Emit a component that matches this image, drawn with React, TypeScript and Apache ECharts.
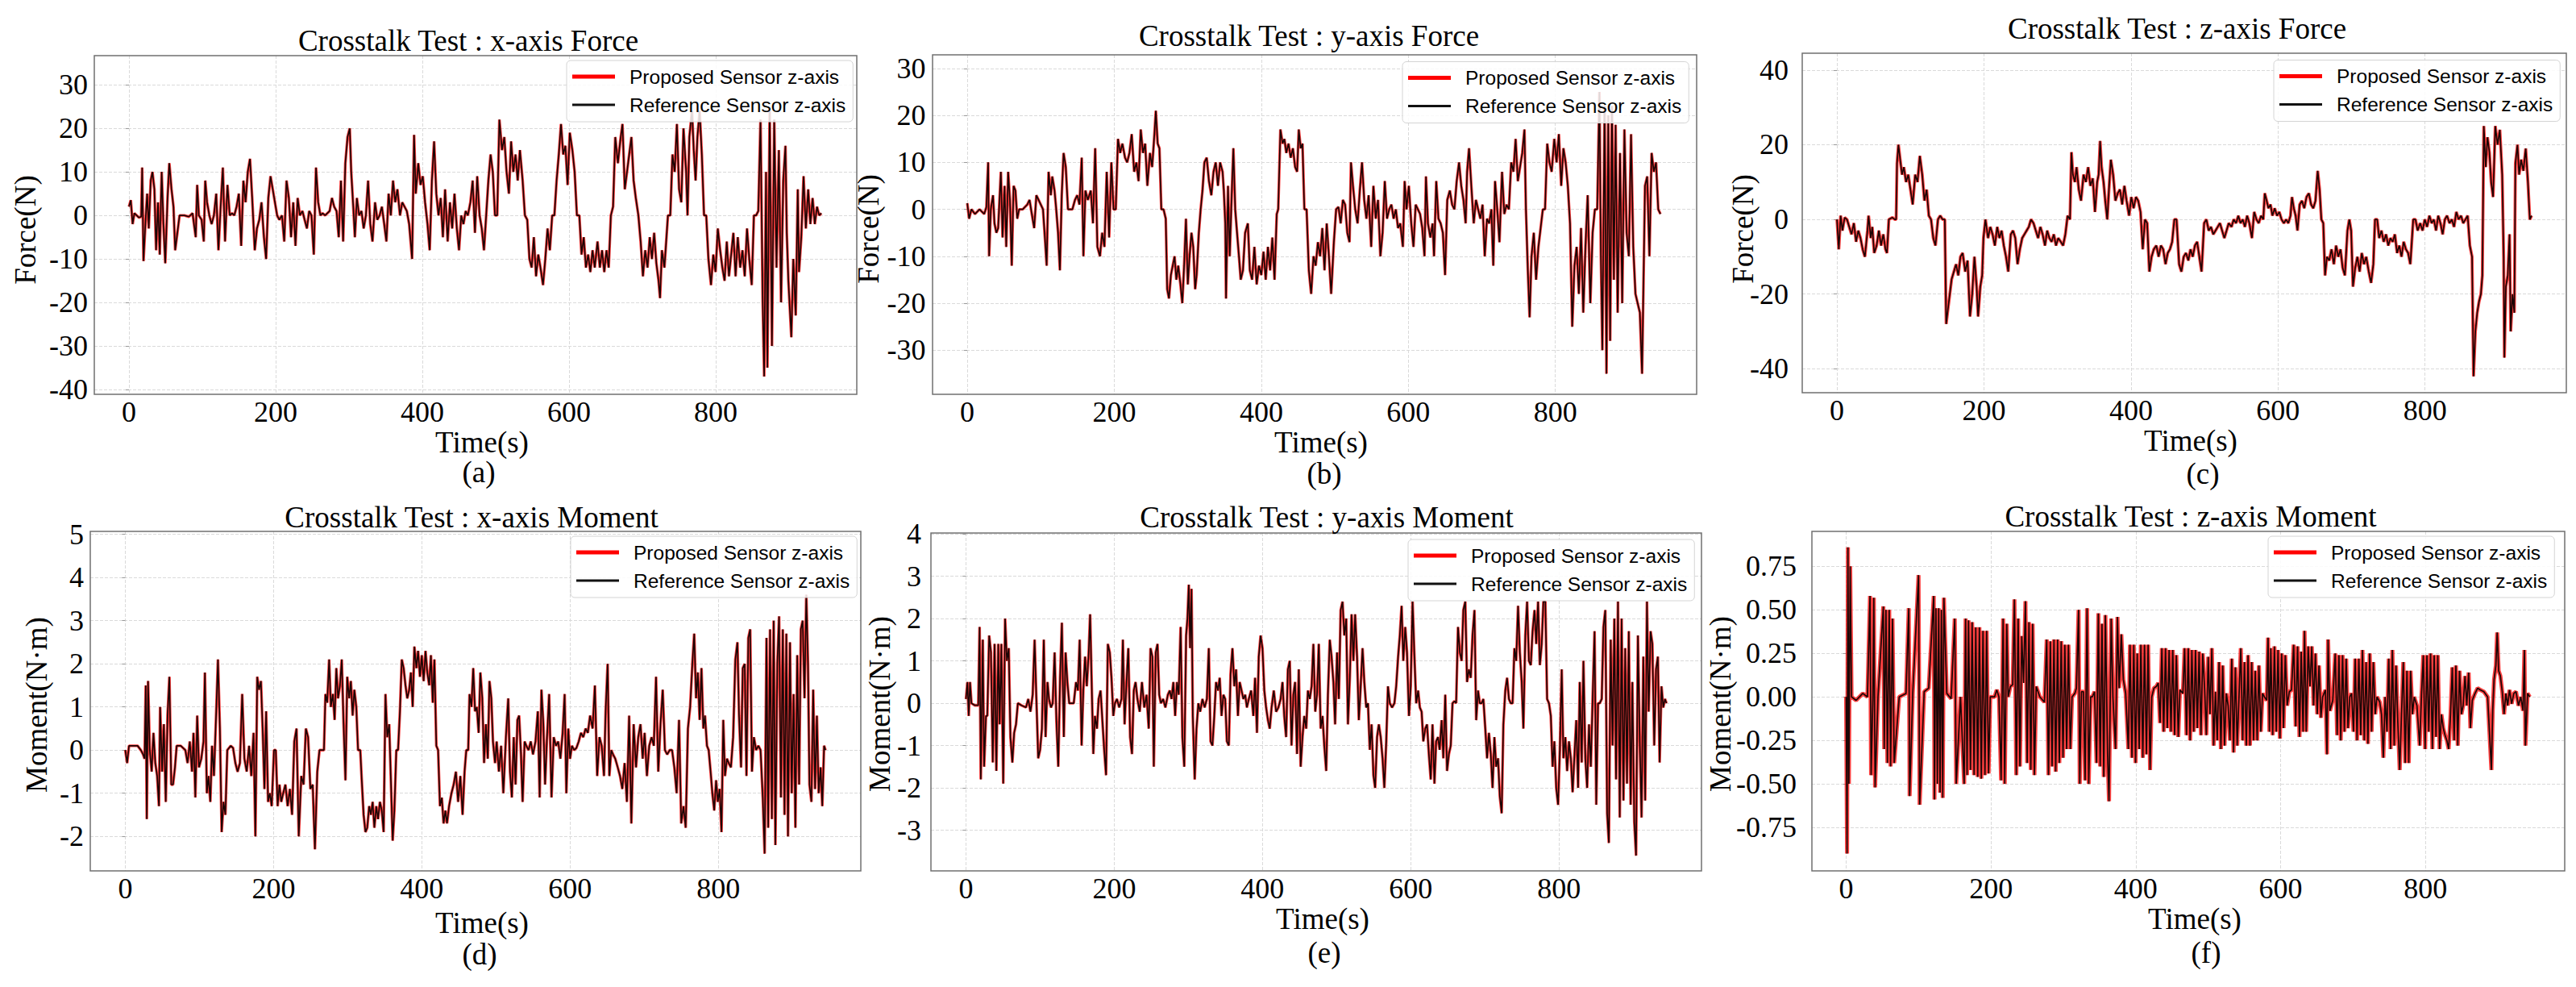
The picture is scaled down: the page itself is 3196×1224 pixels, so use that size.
import React, { useEffect, useRef } from "react";
import * as echarts from "echarts";

// ---------- texts ----------
const SERIES_NAMES = ["Proposed Sensor z-axis", "Reference Sensor z-axis"];
const PANEL_TITLES = [
  "Crosstalk Test : x-axis Force",
  "Crosstalk Test : y-axis Force",
  "Crosstalk Test : z-axis Force",
  "Crosstalk Test : x-axis Moment",
  "Crosstalk Test : y-axis Moment",
  "Crosstalk Test : z-axis Moment",
];
const PANEL_LETTERS = ["(a)", "(b)", "(c)", "(d)", "(e)", "(f)"];
const X_AXIS_NAME = "Time(s)";
const Y_AXIS_NAMES = ["Force(N)", "Force(N)", "Force(N)", "Moment(N·m)", "Moment(N·m)", "Moment(N·m)"];

// ---------- data: [time (s), reading] ----------
// The proposed and reference traces coincide within the picture's resolution,
// so each panel keeps one list of readings that both lines are drawn from.
const forceX = [
  [0,2],[2.5,3.5],[5,-2],[7.4,0.5],[13.6,-0.5],[16.7,-0.3],[18,11],[19.8,-10.5],[23,0],[24.8,5],[27,-3],[29.7,8],[32,10],[34.7,6],[37,-8],[39.6,3],[42,-9],[44.6,10],[47,-2],[49.5,-11],[52.6,4],[55,12],[58,6],[60.7,2],[63,-8],[66,-4],[69,0],[75.5,0],[81.7,-0.3],[86.7,0.5],[91,-5],[93,7],[95.3,0],[99,-1],[102,-6],[104,8],[106.5,3],[109.6,0],[112.7,-2],[115.8,0],[119,5],[122,-8],[125,2],[128,11],[131,-6],[134.3,7],[137.4,0],[140.5,0.5],[143.6,0],[146.7,2],[149.8,5],[153,-7],[156,8],[159,3],[162,10],[165,13],[168,4],[171.5,-8],[174.5,-3],[177.7,-1],[180.7,3],[184,-5],[187,-10],[190,4],[193,9],[196,6],[199,3],[202,0],[205,-1],[208.6,0],[211.7,-6],[214.8,8],[218,4],[221,-5],[224,3],[227,-7],[230,4],[233,0],[236.5,1],[239.5,-1],[242.6,-3],[245.7,1],[248.8,0],[252,-9],[255,11],[258,3],[261,0],[264,0.5],[267.4,0],[270.5,0.5],[273.6,1],[276.7,4],[279.8,2],[283,1],[286,-5],[289,8],[292,-6],[295,12],[298,18],[301,20],[303,10],[305.8,2],[308,-5],[310.7,4],[313.8,0],[317,1],[320,-3],[323,0],[326,8],[329,-2],[332,-6],[335.5,3],[338.6,-1],[341.7,0],[344.8,2],[348,-2],[351,-6],[354,5],[357,0],[360,8],[363,3],[366,6],[369.5,0],[372.6,3],[375.7,2],[378.8,1],[382,-2],[386,-10],[388.7,18.5],[391,5],[394.4,12],[397.5,7],[400.6,9],[403.7,3],[407,-2],[410,-8],[413,8],[416,17],[419,5],[422,0],[425,4],[428,-5],[431,6],[434.5,-6],[437.6,3],[440.7,-3],[443.8,5],[447,-3],[450,-8],[453,0],[456,-2],[459,1],[462,0],[465.5,3],[468.6,8],[471.7,-4],[474.8,9],[478,0],[481,-3],[484,-8],[487,0],[490,8],[493,14],[496,10],[499,0],[502,0],[505,22],[508.6,15],[511.7,18],[514.8,10],[518,5],[521,17],[524,10],[527,14],[530,8],[533,15],[536.7,8],[539.8,0],[543,-1],[546,-10],[549,-12],[552,-5],[555,-14],[558,-9],[561,-12],[564.5,-16],[567.6,-10],[570.7,-3],[573.8,-8],[577,0],[580,0],[583,8],[586,14],[589,21],[592,14],[595,16],[598,7],[601,19],[604.5,15],[607.6,10],[610.7,0],[614,0],[617,-9],[620,-5],[623,-12],[626,-9],[629,-13],[632,-8],[635,-12],[638.8,-6],[642,-12],[645,-8],[648,-13],[651,-8],[654,-12],[657,0],[660,2],[663,18],[666.6,12],[669.7,17],[672.8,21],[676,6],[679,10],[682,14],[685,18],[688,8],[691,4],[694.5,0],[697.6,-6],[700.7,-14],[703.8,-8],[707,-12],[710,-5],[713,-10],[716,-4],[719,-11],[722,-15],[724,-19],[726.6,-8],[730,-12],[734.8,0],[738,0],[741,14],[744,10],[747,21],[750,6],[753,3],[756,20],[759.6,10],[761.5,0],[764,18],[767.6,24],[770,15],[772.5,8],[775,18],[778,24],[781,14],[784,0],[787,0],[790,-10],[793.5,-16],[796.6,-9],[799.7,-13],[802.8,-3],[806,-8],[809,-12],[812,-15],[815,-6],[818,-14],[821,-9],[824,-4],[827,-14],[830,-5],[833.3,-12],[836.4,-8],[839.5,-14],[842.6,-3],[845.7,-10],[849,-16],[852,0],[855,0],[858,1],[861,22],[864,-20],[866,-37],[868.5,10],[870.4,-35],[873.5,24],[876.6,-30],[879.7,22],[882.8,-12],[886,15],[889,-20],[892,8],[895,16],[896.8,-4],[899,-15],[903,-28],[905.7,-10],[909,-23],[911.8,6],[913.5,-13],[916.6,-5],[919.7,9],[922.8,-3],[926,6],[929,-2],[932,4],[935,-2],[938,2],[941,0],[944,0.5],
];

const forceY = [
  [0,1.3],[2.5,-2],[5.6,0],[10.5,-1],[16.7,0],[23,-1],[26,0.5],[28.4,10],[29.7,-10],[32,0],[35,3],[37,-3],[39.6,-5],[42,-4],[45.7,8],[48,-6],[50.7,5],[53,-8],[55.6,8],[58,2],[60.5,-12],[63,5],[65.5,4],[68,-2],[70.5,0],[75.4,0],[81.6,1],[84.7,2],[87.8,-1],[91,-4],[94,3],[97,2],[100,1],[103,0],[106,-7],[108,-12],[110.6,8],[113.7,3],[115.6,7],[118.7,4],[121,0],[123.5,-5],[126,-13],[128.5,3],[131,12],[134,9],[137,0],[143,0],[146.5,2],[149.6,3],[152.6,1],[155.7,11],[158,-10],[160.7,4],[164,2],[168,4],[171,-3],[174,13],[177,-8],[180.5,-10],[183.5,-5],[186.6,-8],[189.7,8],[193,-6],[196,10],[199,0],[202,0],[205,15],[208,12],[211,14],[214.6,11],[217.5,10],[220.6,12],[223.7,16],[227,8],[230,10],[233,6],[236,17],[239,12],[242,14],[245,5],[248.5,12],[251.5,9],[254.6,16],[256.5,21],[259,14],[261.4,13],[264,0],[267,0],[270,-2],[272,-17],[274.4,-19],[277,-14],[279.5,-12],[282,-10],[284.4,-15],[287,-12],[290,-16],[292.5,-20],[295,-12],[297.5,-2],[300,-16],[302.4,-10],[305,-5],[307.4,-8],[310,-17],[312,-14],[315,-5],[317.5,0],[320,4],[322.6,10],[325.7,11],[328.8,6],[332,3],[335,8],[338,10],[341,5],[344,10],[347.3,8],[349,4],[351,-3],[352,-19],[354.7,5],[357,-10],[359.7,3],[362,13],[364.5,0],[367,-5],[369.6,-10],[372,-15],[375,-13],[378,-5],[381.7,-3],[384.4,-13],[387.5,-15],[390.6,-8],[393.7,-16],[396.8,-12],[400,-14],[403,-9],[406,-15],[409,-8],[412,-13],[415,-6],[418,-15],[421,-1],[423,0],[426,17],[429,14],[431.4,15],[434,12],[437,14],[440,11],[443,13],[446,9],[448.7,8],[451,17],[453.6,13],[456,14],[458.6,0],[461.6,0],[464.7,-13],[467.8,-18],[471,-10],[474,-12],[477,-7],[480,-10],[483,-4],[486,-13],[489,-3],[492,-10],[495,-18],[498.7,-7],[501.8,0],[505,0.5],[508,-3],[511,2],[514,1],[517,-5],[520,-7],[522,10],[524.7,5],[527.8,0],[531,-3],[534,4],[537,10],[540,2],[543,-2],[546,3],[549.5,-8],[552.5,5],[555.7,-2],[558.8,2],[562,-10],[565,-5],[568,6],[571,-2],[574,0],[577,1],[580,-2],[583,0],[586,-4],[589,-3],[592.6,-8],[595,6],[597.6,0],[600.7,5],[604,-3],[607,-8],[610,1],[613,0],[616,-1],[619,-4],[622,-10],[624,7],[626.7,-3],[630,-6],[633,-3],[635,-10],[638,6],[641,-2],[644,-3],[647,-5],[650,-14],[653,2],[656.5,4],[659.6,1],[662.7,0],[665.8,6],[669,10],[672,5],[675,2],[678,-3],[680,8],[682.6,13],[685.7,5],[689,-3],[692,2],[695,0],[698,-2],[701,1],[704,-10],[707,-2],[710,-3],[713,0],[715.6,-12],[718,6],[721,0],[724,-7],[727.5,8],[730.6,-1],[733.7,1],[736.8,0],[740,10],[743,8],[746,15],[749,6],[752,9],[755,12],[758,17],[760,0],[762.6,-13],[765,-23],[767.6,-10],[770.7,-5],[773.8,-15],[777,-8],[780,-4],[783,0],[786,0],[789,14],[792,10],[795,8],[798.6,15],[801.7,10],[804.8,16],[808,5],[811,13],[814,10],[817,5],[820,-3],[823,-25],[826,-12],[829,-8],[832,-18],[835,-4],[838,-22],[841,-8],[844,3],[847.6,-20],[850.7,-5],[853.8,0],[857,0],[860,25],[862,-10],[864,-30],[867,22],[869.6,-35],[872,20],[874.6,-28],[877,22],[879.6,-15],[882,18],[884.8,-22],[888,12],[891,-20],[894,17],[897,-5],[900,-10],[903,16],[906,-8],[909,-18],[912,-20],[915,-22],[918,-35],[922,5],[925,7],[928,-10],[931,12],[934,8],[937,10],[940,0],[943,-1],
];

const forceZ = [
  [0,0],[2.5,-8],[5,1],[7.4,-3],[10.5,0.5],[13.6,0],[16.7,-2],[19.8,-4],[23,-1],[26,-6],[29,-3],[32,-5],[35,-8],[38,-10],[41.5,-3],[43,1],[46,-5],[48,-2],[50.7,-9],[54,-7],[57,-3],[60,-7],[63,-4],[66,-8],[68,-9],[70.6,0],[75.5,0.5],[78.6,0],[80.5,0],[81.7,15],[83.6,20],[86,16],[88.5,12],[91,14],[94,10],[97,12],[100,8],[103,4],[106.5,12],[109.6,10],[112.7,17],[116,12],[119,5],[122,8],[125,1],[128,0],[131,-5],[134,-7],[137.4,0],[140.5,1],[143.6,0],[146.7,0],[148.6,-28],[151,-24],[153.5,-20],[156,-16],[159,-14],[162,-12],[165,-15],[168,-10],[171,-9],[174.5,-14],[177.7,-11],[181,-26],[184,-20],[187,-10],[190,-18],[192,-26],[195,-18],[197.5,-15],[199.3,-5],[202,0],[205.5,-5],[208.6,-2],[211.7,-4],[214.8,-7],[218,-2],[221,-5],[224,-3],[227,-7],[230,-10],[233,-14],[236.5,-4],[239.5,-3],[242.6,-5],[245.7,-12],[248.8,-8],[252,-5],[255,-4],[258,-3],[261,-2],[264,0],[267.4,-1],[270.5,-3],[273.6,-5],[276.7,-2],[279.8,-4],[283,-7],[286,-3],[289,-5],[292,-6],[295,-4],[298,-7],[301,-5],[304.5,-6],[307.6,-7],[310.7,-4],[313.8,1],[317,0],[319,18],[321,12],[323.7,10],[326,14],[329,8],[332,5],[335.5,12],[338.6,10],[341.7,14],[344.8,9],[348,11],[351,2],[354,10],[356,12],[358,21],[360,14],[362.7,10],[365,5],[367.7,0],[370,8],[372.6,16],[375.7,12],[378.8,5],[382,7],[385,8],[388,4],[391,9],[394,5],[397.4,1],[400.5,6],[403.6,3],[406.7,6],[409.8,5],[413,2],[416,-8],[419,0],[422,-1],[425,-14],[428,-10],[431,-8],[434.5,-7],[437.6,-10],[440.7,-7],[443.8,-8],[447,-12],[450,-9],[453,-8],[456,-6],[459,0],[462,0],[465.5,-12],[468.6,-14],[471.7,-10],[474.8,-9],[478,-11],[481,-8],[484,-10],[487,-7],[490,-6],[493,-10],[496,-14],[499.5,-1],[502.6,0],[505.7,-3],[508.8,-2],[512,-4],[515,-3],[518,-2],[521,-1],[524,-3],[527,-5],[530,-3],[533,-1],[536.7,-2],[539.8,0],[543,-1],[546,1],[549,-1],[552,0],[555,-2],[558,1],[561,-1],[564.5,-5],[567.6,2],[570.7,0],[573.8,-1],[577,1],[580,0],[582,7],[584.6,5],[587,3],[589.8,4],[592.4,1],[595.5,3],[598.6,1],[601.7,2],[604.8,0],[608,-1],[611,0],[614,-1],[617,1],[619,6],[621.5,3],[624,1],[626.5,-3],[629.5,4],[632.6,5],[635.7,3],[638.8,6],[642,7],[645,4],[648,3],[651,5],[654,13],[656.6,8],[659,0],[661.6,-1],[664,-15],[666.6,-10],[669.7,-11],[672.8,-8],[676,-12],[679,-7],[682,-10],[685,-8],[688,-13],[691,-15],[694.5,-3],[697,0],[699.5,-3],[702,-18],[705,-13],[708,-10],[711,-14],[714,-9],[717,-12],[720,-10],[723.5,-14],[726.6,-17],[729.7,-12],[732,0],[735,0],[737.6,-5],[740.7,-3],[743.8,-6],[747,-4],[750,-7],[753,-5],[756,-6],[759,-4],[762,-9],[765,-7],[768,-10],[771,-6],[774,-8],[777,-9],[780,-12],[784,0],[787,0],[790,-3],[793.5,-1],[796.6,-3],[799.7,0],[802.8,-2],[806,1],[809,-1],[812,0],[815,-3],[818,1],[821,-1],[824,-4],[827,0],[830,1],[833.3,-1],[836.4,0],[839.5,-2],[842.6,2],[845.7,0],[849,1],[852,-1],[855,0],[858,1],[861,-7],[864,-10],[866,-42],[868.5,-30],[871,-25],[873.5,-22],[876,-20],[878,-15],[880,25],[882.6,14],[885,22],[887.6,18],[890,10],[892.6,6],[895.6,25],[898.7,20],[901.8,24],[905,12],[907,-10],[908,-37],[910,-18],[912.6,-15],[915,-4],[916.6,-30],[919,-20],[921.5,-25],[923,15],[925.8,20],[928,12],[930.7,16],[933.8,13],[937,19],[940,10],[942.6,0],[945,1],
];

const momentX = [
  [0,0],[2.5,-0.3],[5,0.1],[10,0.1],[16.6,0.1],[21,0],[24,-0.1],[26,-0.2],[27.6,1.5],[29,-1.6],[30.7,1.6],[33,0],[35.6,-0.5],[38,0.4],[40.5,-0.3],[43,-0.6],[45.4,-1.3],[47,1.0],[49.7,-0.5],[52,0.6],[54.6,-1.2],[57,0.8],[59.5,1.7],[62,-0.8],[64.4,-0.8],[67,-0.4],[69.3,0.1],[74.8,0.1],[81,0],[84,-0.3],[87,0.2],[90,-0.5],[92,0.4],[94.5,-1.1],[97,0.8],[99.4,-0.4],[102.5,-0.2],[105.5,0.2],[107.4,1.8],[110,-1.0],[112.3,-0.6],[114.7,-1.2],[117,0.1],[119.6,-0.6],[122.7,0.9],[125,2.1],[127.6,0.5],[130,-1.9],[132.5,-1.2],[135,-1.5],[137.6,0],[142.3,0.1],[145.4,0.05],[148.5,-0.3],[151.5,-0.5],[154.6,-0.3],[157.7,1.3],[160.7,-0.2],[163.8,-0.5],[167,0.1],[170,-0.6],[173,0.4],[175.5,-2.0],[178,1.7],[180.4,1.4],[183,1.6],[185.3,0.5],[187.7,-0.9],[190,0.9],[192.6,-1.2],[195,-1.0],[197.5,-1.3],[200.6,0],[203,0],[205.5,-1.3],[208,-0.8],[210.4,-1.2],[213,-1.0],[216,-0.8],[219,-1.3],[222,-0.9],[225,-1.5],[228,0.2],[231,0.5],[234,-2.0],[237.4,-0.6],[240.5,-0.8],[243.6,0.5],[246.6,0.3],[249.7,-0.9],[252.8,-0.8],[255.8,-2.3],[259,-0.5],[262,0],[265,0],[268,0],[270,1.3],[272.4,1.1],[275,2.1],[277.3,1.0],[280,1.3],[282.4,0.7],[284.7,1.9],[287,1.2],[289.6,1.5],[292,2.1],[294.5,0.6],[297,-0.7],[299.4,1.7],[302,1.2],[304.3,1.6],[306.7,0.8],[309,1.4],[311.6,1.0],[314,0],[317,0],[319,-0.7],[321.5,-1.5],[324,-1.9],[326.4,-1.8],[329,-1.3],[331.3,-1.5],[333.7,-1.2],[336,-1.8],[338.6,-1.3],[341,-1.6],[343.5,-1.2],[346,-1.4],[348.5,-1.9],[351,1.3],[353.4,0.3],[356,0.6],[358.3,-0.7],[360.7,-2.1],[363,-1.4],[365.6,0],[368,0],[370.5,0.9],[373,2.1],[375.5,1.9],[378,1.5],[380.4,1.2],[383,1.4],[385.3,1.8],[387.7,1.0],[390,2.4],[392.7,1.9],[395,2.3],[397.5,1.7],[400,2.2],[402.5,1.6],[405,2.3],[407.4,1.8],[410,1.5],[412.3,2.2],[414.8,1.1],[417,2.1],[419.6,0.1],[422,0],[424.5,-1.3],[427,-1.1],[429.4,-1.7],[431.8,-1.4],[434,-1.7],[436.8,-1.3],[440,-1.0],[443,-0.8],[446,-0.5],[449,-1.2],[452,-0.6],[455,-1.5],[457.7,-0.5],[460,0],[462.6,0],[464.4,1.3],[467,1.0],[469.4,1.9],[471.8,0.9],[474.2,1.0],[476.7,0.4],[479,1.8],[481.6,1.2],[484,-0.3],[486.5,0.6],[489,-0.2],[491.3,1.6],[493.8,1.2],[496,0.2],[498.8,-0.3],[501,0.2],[504,-0.5],[507,0.1],[510,-1.0],[513.5,0.3],[516.6,1.2],[519,-0.5],[521.5,-1.1],[524,0.3],[526.5,-0.8],[529,0.7],[531.3,0.8],[533.8,-0.1],[536,-1.2],[538.7,0.2],[541,0.1],[544,0],[547,0.2],[550,-0.1],[553.4,0.2],[556.5,0.9],[559,-1.1],[561.4,1.4],[564,0.6],[566.3,-0.8],[568.7,0.2],[571.8,1.3],[575,-1.1],[578,0.3],[581,0.1],[584,0.2],[587,-0.2],[590,0.4],[592.7,1.3],[595,-1.0],[597.6,0.5],[600,-0.2],[602.5,0.1],[605.5,0],[608.6,0.05],[611.7,0.2],[614.7,0.4],[617.8,0.3],[621,0.5],[624,0.4],[627,0.8],[630.4,0.5],[633.5,1.5],[636.6,-0.6],[639.7,0.3],[642.7,0.1],[645.8,-0.6],[648,0.9],[650.7,2.0],[653,-0.6],[655.6,0],[658,-0.1],[661,-0.2],[664.3,-0.4],[667.4,-0.6],[670.5,-0.9],[673.6,-0.3],[676.7,-1.2],[679.7,0.8],[682.7,-1.7],[685.8,0.6],[689,-0.4],[692,0.3],[695,0.6],[698,-0.2],[700.6,0.4],[703.7,-0.6],[706.8,0.1],[710,0.3],[713,0.1],[716,1.7],[719,-0.5],[722,0.6],[725,1.4],[728,0],[731,-0.1],[734.5,0],[737.6,0],[740.7,-0.4],[743.8,-1.0],[747,0.7],[750,-1.7],[753,-1.3],[756,-1.8],[759,0.5],[762,1.0],[765,2.0],[767.5,2.7],[770,1.2],[772.4,1.8],[774.8,0.7],[777.3,1.9],[779.8,0.5],[782,0.8],[784.7,0.1],[787,0],[789.6,-0.5],[792,-1.0],[794.5,-1.4],[797,-0.7],[799.4,-1.2],[801.8,-0.9],[804.3,-1.9],[806.7,0.7],[809,-0.6],[811.7,-0.2],[814,-0.3],[817,-0.4],[820,0.3],[823,2.1],[825.8,2.5],[828,0.8],[830.7,-0.4],[833,1.9],[835.6,2.0],[838,-0.6],[840.5,2.6],[843,2.8],[845.4,-0.5],[848,0.3],[851,0],[854,0.1],[857,0],[860,-1.1],[862.5,-2.4],[865,2.6],[867.3,-1.8],[869.8,2.8],[872.3,-1.6],[874.7,3.0],[877,-2.2],[879.6,2.0],[882,3.1],[884.5,-1.1],[887,2.8],[889.3,-1.5],[891.8,2.7],[894,-2.0],[896.7,2.5],[899,-1.0],[901.6,1.3],[904,-1.8],[906.5,2.2],[909,-0.8],[911.4,2.8],[913.8,3.0],[916.3,1.2],[918.7,3.6],[921,2.0],[923,-0.8],[925.6,-1.2],[928,1.4],[930.5,-0.9],[933,0.8],[935.4,-1.0],[938,-0.4],[940.3,-1.3],[942.7,0.1],[944.6,0],
];

const momentY = [
  [0,0.1],[2,0.5],[3.7,-0.3],[5.5,0.5],[7.4,0],[12,-0.05],[16.6,-0.05],[18.4,1.8],[20,-1.8],[22.7,1.5],[24.5,-1.5],[27,-0.3],[28.8,-0.3],[31.3,1.6],[33.7,1.2],[36.2,-1.4],[38.6,1.4],[41,-1.6],[43.6,1.4],[45.4,-0.5],[47.8,1.4],[50.3,-1.9],[52.8,2.0],[55.2,1.0],[57.7,1.3],[60,-0.8],[62.6,-1.4],[65,-0.7],[67.5,-0.5],[70,0],[74.8,-0.05],[81,-0.1],[84,0.1],[87,-0.2],[90,0.2],[92.6,1.5],[95,0.1],[97.5,-1.3],[100,-1.1],[102.5,-0.6],[105,1.5],[107.4,-0.8],[110,0.5],[112,0.1],[114.7,-0.1],[117,0],[119.6,1.2],[122,-0.4],[124.5,-1.5],[127,0.6],[129.4,1.9],[132,-0.8],[134.4,1.2],[136.8,0.5],[139.3,0],[145.4,0],[148.5,0.5],[151,0.3],[153.4,1.5],[156,-1.0],[158.3,0.3],[160.7,1.1],[163,0.4],[165.6,1.2],[167.5,2.1],[169.3,0.7],[171.8,-1.2],[174,-0.3],[176.7,-0.6],[179,0.1],[181.6,0.3],[184,-0.4],[186.5,-1.1],[189,-1.7],[191.4,1.4],[194,1.2],[196.3,0.6],[198.8,-0.3],[201,0],[203.7,0.1],[206.7,-0.1],[209.8,0.1],[211.7,1.5],[214,-0.5],[216.6,0.5],[219,1.3],[221.5,-0.8],[224,-1.2],[226.4,0.3],[228.8,0.5],[231.3,0.1],[234.4,-0.2],[237.4,0.5],[240.5,-0.1],[243.6,0.2],[246.6,-0.6],[249,1.3],[251.5,1.1],[253.4,-1.5],[256,1.2],[258.4,1.4],[260.7,0.2],[263,0],[266,0.1],[269,-0.1],[272.4,0.2],[275,0.3],[277.3,0.1],[279.8,0.5],[282.2,-0.3],[284.7,0.5],[287,0.2],[289.6,1.8],[292,-0.8],[294.5,-1.5],[297,1.6],[298.8,2.0],[300.6,2.8],[302.4,1.3],[304.3,2.7],[306,-0.3],[308.6,-1.8],[311,-0.6],[313.5,0],[316,-0.2],[319,0.1],[322,-0.1],[325,0.1],[327.6,1.3],[330,-0.9],[332.5,-1.0],[335,-0.3],[337.4,0.5],[340,0.3],[342.3,0.6],[344.8,-0.3],[347.3,0.2],[349.7,0.1],[352,-0.9],[354.6,-1.0],[357,0.7],[359.5,1.3],[362,0.4],[364.4,0.8],[366.9,-0.3],[369.3,0.5],[371.8,0.3],[374.2,0.1],[376.7,0.2],[379,-0.1],[381.6,0.1],[384.7,0.3],[387.7,-0.3],[390,0.6],[392.6,-0.7],[395,1.1],[397.5,1.6],[400,1.3],[402.5,0.3],[404.9,-0.1],[407.4,-0.4],[409.8,-0.6],[412.3,-0.1],[415.3,0.3],[418.4,-0.2],[421.5,-0.1],[424.5,0.1],[427,0.5],[429.4,-0.3],[431.9,-0.8],[434.3,0.8],[436.8,1.0],[439.2,-1.0],[441.7,0.2],[444,0.5],[446.6,-1.2],[449,0.8],[451.5,-1.5],[454,-0.8],[456.4,-0.3],[459,-0.6],[461.3,0.3],[463.8,0.1],[466.3,0.4],[468.7,1.4],[471.2,-0.2],[473.6,0.2],[476,1.4],[478.5,-0.6],[481,-0.3],[483.4,-1.0],[486,-1.6],[488.3,0.2],[490.8,1.5],[493.2,1.1],[495.7,0.5],[498,-0.5],[500.6,1.2],[503,0.1],[505.5,2.2],[508,2.4],[510.4,1.6],[513,2.0],[515.3,-0.5],[517.8,0.6],[520.2,2.1],[522.7,1.0],[525,2.1],[527.6,1.1],[530,-0.4],[532.5,0.4],[535,1.3],[537.4,0.5],[540,-0.1],[542.3,0],[544.8,-1.1],[547.2,-0.5],[549.7,-1.7],[552,-2.0],[554.6,-0.8],[557,-0.5],[559.5,-0.8],[562,-1.3],[564.4,-2.0],[567,-0.9],[569.3,0.4],[571.8,0],[574.8,-0.1],[578,0],[580.4,0.4],[583,1.1],[585.3,1.6],[587.7,2.3],[590,1.0],[592.6,1.8],[595,1.2],[597.6,-0.3],[600,0.4],[602.5,2.4],[605,1.1],[607.4,0],[610,0.3],[612.3,-0.1],[614.7,-0.2],[617,-0.9],[619.6,-0.6],[622,-0.5],[624.5,-1.2],[627,-1.8],[629.4,-0.5],[632,-1.9],[634.3,-0.9],[636.8,-0.8],[639,-1.1],[641.7,-0.4],[644,-1.3],[646.6,0.2],[649,-1.6],[651.5,-1.2],[654,-1.0],[656.4,0],[659,0.05],[661.3,0],[663.8,1.8],[666.3,1.2],[668.7,1.0],[671,2.2],[673.6,2.4],[676,0.5],[678.5,0.8],[681,0.6],[683.4,1.6],[686,2.2],[688.3,-0.4],[690.8,0.3],[693.2,0],[695.7,0],[698,0.1],[700.6,-0.6],[703,-1.3],[705.5,-0.7],[708,-1.2],[710.4,-2.0],[712.9,-0.8],[715.3,-1.5],[717.8,-1.3],[720.2,-2.2],[722.7,-2.6],[725,-0.5],[727.6,0.3],[730,0.6],[732.5,0.1],[735,0],[737.4,0],[739.9,1.3],[742.3,1.0],[744.8,2.3],[747.2,1.2],[749.7,0.5],[752,-0.6],[754.6,1.6],[757,2.4],[759.5,1.0],[762,0.9],[764.4,1.7],[767,2.2],[769.3,1.4],[771.8,2.4],[774.2,0.9],[776.7,1.4],[779,2.4],[781.6,2.4],[784,0.1],[786.5,0],[789,-0.3],[791.4,-1.5],[793.8,-0.9],[796.3,-2.0],[798.8,-2.4],[801.2,-1.1],[803.7,0.8],[806,-1.3],[808.6,-0.8],[811,-1.6],[813.5,-0.9],[816,-1.3],[818.4,-2.1],[821,-1.2],[823.3,-0.4],[825.8,-2.0],[828,0.5],[830.7,-1.4],[833,1.0],[835.6,-1.3],[838,-2.0],[840.5,-0.5],[843,-1.5],[845.4,0.1],[848,1.7],[850.3,-2.4],[852.7,0],[855,0],[857.7,0.1],[860,1.8],[862.5,2.2],[865,-2.6],[867.3,-3.3],[869.8,1.5],[872.3,-1.0],[874.7,2.0],[877,-1.8],[879.6,2.4],[882,-2.7],[884.5,2.0],[887,-2.3],[889.3,1.3],[891.8,-1.9],[894.2,1.7],[896.7,-2.4],[899,0.5],[901.6,-2.8],[904,-3.6],[906.5,1.6],[909,-0.9],[911.4,-2.7],[913.8,1.1],[916.3,-2.3],[918.7,2.4],[921,-0.2],[923.6,1.7],[926,1.4],[928.5,-1.0],[931,0.8],[933.4,1.1],[935.8,-1.4],[938.3,0.4],[940.7,-0.1],[943,0.1],[945,0],
];

const momentZ = [
  [0,0],[1.3,-0.9],[2.5,0.86],[3.8,-0.5],[5.6,0.75],[7.5,0],[13.8,-0.02],[23,0.02],[29.4,0],[33,0.58],[34.5,-0.45],[37,0],[38.2,0.57],[40,-0.52],[44,0],[51.4,0.52],[52.6,-0.3],[55,0.5],[57,-0.38],[59.5,0.5],[61.4,-0.4],[64,0.45],[66.4,-0.38],[73.3,0],[82.7,0.02],[86.5,0.51],[87.7,-0.57],[92,0.02],[100,0.7],[101.5,-0.62],[107.8,0.03],[114,0.05],[121,0.58],[122,-0.59],[124,0.51],[126,-0.5],[127.8,0.51],[129.7,-0.55],[131.6,0.5],[133.4,-0.58],[135,0.57],[139,0.02],[145,-0.01],[150,0.45],[152,-0.5],[158,0],[163,-0.5],[165,0.45],[167,-0.45],[169,0.44],[171.7,-0.42],[174,0.43],[176.7,-0.45],[179,0.4],[181.7,-0.46],[184,0.4],[186.7,-0.47],[189,0.38],[191.7,-0.45],[194,0.38],[196.7,-0.44],[199,0],[205,0],[208,0.04],[211,0],[214,-0.48],[216.8,0.45],[219,-0.5],[221.8,0.42],[223.7,0],[226.8,0.06],[230,0.07],[232.4,0.56],[235,-0.45],[237.5,0.45],[240,-0.4],[242.5,0.35],[245,0.08],[247.6,0.55],[250,-0.38],[252.5,0.43],[255,-0.42],[257.5,0.42],[260,-0.45],[262.5,0.06],[267.5,0],[273.8,-0.03],[277,0.33],[279.4,-0.45],[282,0.32],[284.4,-0.4],[287,0.33],[289.4,-0.43],[292,0.33],[294.4,-0.38],[297,0.32],[299.5,-0.35],[302,0.3],[304.5,-0.3],[307,0.3],[309.5,-0.3],[312,0],[315.8,0.02],[318,0.05],[321,0.5],[322.6,-0.5],[325,0.03],[327.7,0.03],[330,-0.48],[332.7,0.51],[335,-0.5],[337.7,0],[340,0],[343,0.03],[345.8,-0.38],[348.3,0.48],[350.8,-0.4],[353.3,0.42],[355.8,-0.46],[358,0.47],[361,-0.33],[363,-0.6],[366,0.45],[368.4,0],[372,-0.3],[374.7,0.46],[377,0.05],[380,0.36],[382.8,0.1],[386,0.02],[389.7,-0.3],[392,0.3],[394.7,-0.35],[397.2,0.3],[399.7,-0.38],[402,0.25],[404.7,-0.3],[407,0.3],[409.7,-0.35],[412,0.3],[414.7,-0.33],[417,0.3],[419.7,-0.42],[422,0],[425,0.05],[428.5,0.06],[431,0.08],[433.5,-0.15],[436,0.28],[438.5,-0.2],[441,0.28],[443.5,-0.18],[446,0.27],[448.6,-0.2],[451,0.27],[453.6,-0.22],[456,0.24],[458.6,-0.23],[461,0.04],[465,0.02],[467.4,0.28],[470,-0.22],[472.4,0.28],[475,-0.25],[477.4,0.27],[480,-0.2],[482.4,0.27],[485,-0.18],[487.4,0.26],[490,-0.22],[492.4,0.25],[495,0.05],[497.4,-0.22],[500,0.23],[502.4,-0.1],[505,0.28],[507.5,-0.28],[510,0.03],[512.5,-0.25],[515,0.2],[517.5,-0.3],[520,0.18],[522.5,-0.28],[525,0.02],[527.5,-0.05],[530,-0.25],[532.5,0.22],[535,-0.32],[537.5,0.17],[540,-0.28],[542.5,0],[545,0.28],[547.6,-0.25],[550,0.2],[552.6,-0.28],[555,0.24],[557.6,-0.28],[560,0.2],[562.6,-0.25],[565,0.15],[567.6,-0.25],[570,0.18],[572.6,-0.2],[575,0.02],[577.6,0],[580.8,-0.02],[582.6,0.34],[584.5,-0.2],[586.4,0.28],[589,-0.22],[591.4,0.29],[594,-0.2],[596.4,0.27],[599,-0.24],[601.4,0.25],[604,-0.18],[606.4,0.24],[609,-0.05],[612,0.03],[615,0.04],[618,0.3],[620.8,-0.17],[623.4,0.29],[626,-0.23],[628.4,0.26],[631,-0.2],[633,0.38],[635.3,-0.2],[638,0.29],[640.5,0.06],[643,0.29],[645.5,-0.05],[648,0.25],[650.5,-0.1],[653,0.18],[655.6,-0.12],[658,0],[661.8,0.04],[664,-0.33],[665.5,0.33],[668,-0.08],[672,-0.02],[675.4,0.25],[678,-0.22],[680.5,0.24],[683,-0.25],[685.5,0.24],[688,-0.2],[690.5,0.22],[693,-0.18],[695.5,0],[698,0.02],[700.6,-0.2],[703,0.22],[705.5,-0.25],[708,0.22],[710.6,-0.22],[713,0.27],[715.5,-0.25],[718,0.2],[720.5,-0.27],[723,0.25],[725.6,-0.2],[728,0.2],[730.6,-0.1],[733,0],[736.8,-0.03],[739.3,-0.1],[741.8,-0.35],[744.3,0],[746.8,-0.2],[749.3,0.22],[751.8,-0.3],[754.3,0.27],[756.8,-0.28],[759.3,0.18],[761.8,-0.15],[764.4,-0.42],[766.9,-0.1],[769.4,0.2],[772,-0.38],[774.4,0.15],[776.9,-0.38],[779.4,0.15],[782,-0.1],[784.4,0],[788.2,-0.05],[792,-0.28],[794.4,0],[797,0.24],[799.5,-0.3],[802,0.24],[804.5,-0.2],[807,0.25],[809.5,-0.3],[812,0.24],[814.5,-0.23],[817,0.24],[819.5,-0.3],[822,-0.1],[824.6,-0.18],[827,-0.22],[829.5,-0.25],[832,-0.3],[834.6,-0.1],[837,0.17],[839.6,-0.25],[842,0.18],[844.6,-0.28],[847,0.15],[849.6,-0.1],[852,-0.05],[854.6,0.12],[857,-0.05],[859.6,0.14],[862,-0.18],[864.6,-0.02],[868.4,0.02],[872,0.05],[875.6,0.04],[880.6,0.03],[885.8,0],[888.3,-0.2],[891,-0.42],[892.8,-0.08],[894.7,0.1],[897.2,0.18],[899,0.37],[901,0.15],[903.4,0.12],[906,0.03],[908.5,-0.1],[911,0.02],[913.5,-0.05],[916,0.04],[919,-0.04],[922,0.02],[925,0.03],[928.4,-0.05],[931.6,0],[934.7,-0.08],[936.6,0.27],[938,-0.28],[941,0.02],[944,0],
];

const PANEL_DATA = [forceX, forceY, forceZ, momentX, momentY, momentZ];

// ---------- layout & style (kept apart from the data) ----------
const SERIF = "'Liberation Serif', 'Times New Roman', serif";
const SANS = "'Liberation Sans', Arial, sans-serif";
const X_RANGE = [-47.25, 992.25];

const LAYOUT = [
  { grid: { left: 117, top: 69, width: 946, height: 420 }, y: { min: -41.1, max: 36.7, split: 8 }, yLabelMargin: 8, yName: [31.5, 285], xNameGap: 36, title: [581, 31.5], letter: [594, 585], legend: [703, 75], redWidth: 3.4 },
  { grid: { left: 1157, top: 68, width: 948, height: 421 }, y: { min: -39.4, max: 32.9, split: 8 }, yLabelMargin: 8.5, yName: [1077.5, 284], xNameGap: 37, title: [1624, 25.5], letter: [1643, 587], legend: [1740, 76.5], redWidth: 3.4 },
  { grid: { left: 2236, top: 66, width: 948, height: 421 }, y: { min: -46.4, max: 44.5, split: 5 }, yLabelMargin: 17, yName: [2162, 284], xNameGap: 39, title: [2701, 16.5], letter: [2733, 587], legend: [2821, 74.5], redWidth: 3.8 },
  { grid: { left: 112, top: 659, width: 956, height: 421 }, y: { min: -2.8, max: 5.07, split: 8 }, yLabelMargin: 8, yName: [45.5, 874], xNameGap: 45.5, title: [585, 622.5], letter: [595, 1183], legend: [708, 665], redWidth: 3.4 },
  { grid: { left: 1155, top: 661, width: 956, height: 419 }, y: { min: -3.96, max: 4.02, split: 8 }, yLabelMargin: 12, yName: [1091, 873], xNameGap: 37.5, title: [1646, 622.5], letter: [1643, 1181], legend: [1747, 669], redWidth: 3.4 },
  { grid: { left: 2248, top: 659, width: 934, height: 421 }, y: { min: -1.0, max: 0.951, interval: 0.25, decimals: 2 }, yLabelMargin: 19, yName: [2134, 873], xNameGap: 33.5, title: [2718, 621.5], letter: [2737, 1181], legend: [2814, 665], redWidth: 5 },
];

function buildOption() {
  const grid = LAYOUT.map((L) => ({
    ...L.grid,
    show: true,
    borderColor: "#707070",
    borderWidth: 1.5,
    backgroundColor: "transparent",
    containLabel: false,
    z: 5,
  }));

  const splitLine = {
    show: true,
    showMinLine: false,
    showMaxLine: false,
    lineStyle: { color: "#dadada", type: "dashed", width: 1 },
  };

  const xAxis = LAYOUT.map((L, i) => ({
    type: "value",
    gridIndex: i,
    min: X_RANGE[0],
    max: X_RANGE[1],
    splitNumber: 5,
    name: X_AXIS_NAME,
    nameLocation: "middle",
    nameGap: L.xNameGap,
    nameTextStyle: { fontFamily: SERIF, fontSize: 37, color: "#000", padding: [0, 0, 0, 16] },
    axisLine: { show: false },
    axisTick: { show: false },
    axisLabel: { show: true, margin: 4, fontFamily: SERIF, fontSize: 36, color: "#000", showMinLabel: false, showMaxLabel: false },
    splitLine,
  }));

  const yAxis = LAYOUT.map((L, i) => ({
    type: "value",
    gridIndex: i,
    min: L.y.min,
    max: L.y.max,
    ...(L.y.interval ? { interval: L.y.interval } : { splitNumber: L.y.split }),
    axisLine: { show: false },
    axisTick: { show: true, length: 4, lineStyle: { color: "#999" } },
    axisLabel: {
      show: true,
      margin: L.yLabelMargin,
      fontFamily: SERIF,
      fontSize: 36,
      color: "#000",
      showMinLabel: false,
      showMaxLabel: false,
      formatter: L.y.decimals ? (v: number) => v.toFixed(L.y.decimals) : (v: number) => String(Math.round(v * 1000) / 1000),
    },
    splitLine,
  }));

  const series: any[] = [];
  PANEL_DATA.forEach((samples, i) => {
    series.push({
      type: "line",
      name: SERIES_NAMES[0],
      xAxisIndex: i,
      yAxisIndex: i,
      data: samples,
      symbol: "none",
      showSymbol: false,
      color: "#ff0000",
      lineStyle: { color: "rgba(255,0,0,0.75)", width: LAYOUT[i].redWidth },
      z: 2,
    });
    series.push({
      type: "line",
      name: SERIES_NAMES[1],
      xAxisIndex: i,
      yAxisIndex: i,
      data: samples,
      symbol: "none",
      showSymbol: false,
      color: "#111111",
      lineStyle: { color: "#1c0606", width: 1.7 },
      z: 3,
    });
  });

  const legend = LAYOUT.map((L) => ({
    left: L.legend[0],
    top: L.legend[1],
    orient: "vertical",
    selectedMode: false,
    padding: [7.5, 9, 8.5, 7],
    itemGap: 10,
    itemWidth: 53,
    itemHeight: 14,
    backgroundColor: "rgba(255,255,255,0.85)",
    borderColor: "#d4d4d4",
    borderWidth: 1,
    borderRadius: 5,
    z: 10,
    textStyle: { fontFamily: SANS, fontSize: 24.5, lineHeight: 25, color: "#000", padding: [0, 0, 0, 13] },
    data: [
      { name: SERIES_NAMES[0], icon: "path://M0,0H53V5H0Z" },
      { name: SERIES_NAMES[1], icon: "path://M0,0H53V3H0Z" },
    ],
  }));

  const title = LAYOUT.map((L, i) => ({
    text: PANEL_TITLES[i],
    left: L.title[0],
    top: L.title[1],
    textAlign: "center",
    padding: 0,
    textStyle: { fontFamily: SERIF, fontSize: 37, fontWeight: "normal", color: "#000" },
  }));

  const letters = LAYOUT.map((L, i) => ({
    type: "text",
    x: L.letter[0],
    y: L.letter[1],
    style: {
      text: PANEL_LETTERS[i],
      fill: "#000",
      font: `37px ${SERIF}`,
      textAlign: "center",
      textVerticalAlign: "middle",
    },
  }));

  const yNames = LAYOUT.map((L, i) => ({
    type: "text",
    x: L.yName[0],
    y: L.yName[1],
    rotation: Math.PI / 2,
    style: {
      text: Y_AXIS_NAMES[i],
      fill: "#000",
      font: `37px ${SERIF}`,
      textAlign: "center",
      textVerticalAlign: "middle",
    },
  }));

  return {
    animation: false,
    backgroundColor: "#ffffff",
    title,
    legend,
    grid,
    xAxis,
    yAxis,
    series,
    graphic: { elements: [...letters, ...yNames] },
  };
}

export default function App() {
  const ref = useRef<HTMLDivElement>(null);
  useEffect(() => {
    document.body.style.margin = "0";
    document.body.style.overflow = "hidden";
    if (!ref.current) return;
    const chart = echarts.init(ref.current, undefined, { renderer: "svg" });
    chart.setOption(buildOption() as any);
    return () => chart.dispose();
  }, []);
  return <div ref={ref} style={{ width: 3196, height: 1224 }} />;
}
